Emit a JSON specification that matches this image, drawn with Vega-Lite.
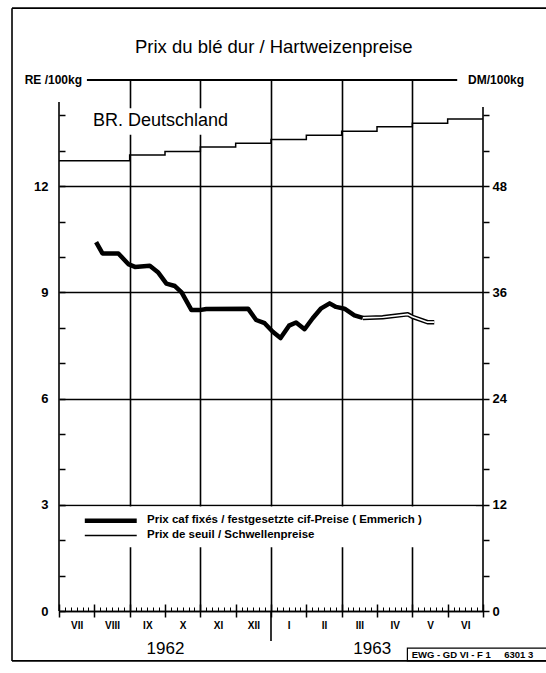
{
  "$schema": "https://vega.github.io/schema/vega-lite/v6.json",
  "width": 424,
  "height": 531,
  "autosize": {"type": "none"},
  "padding": {"left": 59, "top": 80, "right": 63, "bottom": 62},
  "background": "white",
  "config": {
    "view": {"stroke": null},
    "axis": {"domainColor": "black", "tickColor": "black", "labelColor": "black", "gridColor": "black", "gridOpacity": 1, "labelFont": "Liberation Sans", "title": null, "labelOverlap": false, "labelFlush": false},
    "text": {"font": "Liberation Sans", "color": "black"}
  },
  "data": {"values": [{}]},
  "datasets": {
    "caf": [
      {"m": 1.05, "v": 10.42}, {"m": 1.23, "v": 10.1}, {"m": 1.68, "v": 10.1}, {"m": 1.96, "v": 9.8},
      {"m": 2.15, "v": 9.72}, {"m": 2.57, "v": 9.75}, {"m": 2.8, "v": 9.57}, {"m": 3.04, "v": 9.25},
      {"m": 3.28, "v": 9.18}, {"m": 3.47, "v": 9.0}, {"m": 3.75, "v": 8.5}, {"m": 3.98, "v": 8.5},
      {"m": 4.17, "v": 8.53}, {"m": 5.35, "v": 8.54}, {"m": 5.58, "v": 8.22}, {"m": 5.82, "v": 8.13},
      {"m": 6.05, "v": 7.89}, {"m": 6.27, "v": 7.71}, {"m": 6.51, "v": 8.06}, {"m": 6.71, "v": 8.15},
      {"m": 6.95, "v": 7.96}, {"m": 7.18, "v": 8.27}, {"m": 7.42, "v": 8.55}, {"m": 7.66, "v": 8.69},
      {"m": 7.84, "v": 8.59}, {"m": 8.08, "v": 8.54}, {"m": 8.36, "v": 8.35}, {"m": 8.6, "v": 8.28}
    ],
    "cafOpen": [
      {"m": 8.6, "v": 8.28}, {"m": 9.16, "v": 8.3}, {"m": 9.87, "v": 8.38}, {"m": 10.0, "v": 8.31},
      {"m": 10.43, "v": 8.16}, {"m": 10.62, "v": 8.16}
    ],
    "seuil": [
      {"m": 0, "v": 12.72}, {"m": 2, "v": 12.88}, {"m": 3, "v": 12.98}, {"m": 4, "v": 13.11},
      {"m": 5, "v": 13.21}, {"m": 6, "v": 13.32}, {"m": 7, "v": 13.44}, {"m": 8, "v": 13.55},
      {"m": 9, "v": 13.68}, {"m": 10, "v": 13.78}, {"m": 11, "v": 13.9}, {"m": 12, "v": 13.9}
    ]
  },
  "resolve": {"axis": {"x": "independent", "y": "independent"}},
  "layer": [
    {
      "mark": {"type": "rect", "color": "white"},
      "encoding": {
        "x": {"datum": 0.2, "type": "quantitative", "scale": {"domain": [0, 12], "nice": false, "zero": false},
              "axis": {"orient": "bottom", "values": [2, 4, 6, 8, 10], "grid": true, "gridWidth": 1.6, "ticks": false, "labels": false, "domain": false}},
        "x2": {"datum": 11.8},
        "y": {"datum": 1.8, "type": "quantitative", "scale": {"domain": [0, 15], "nice": false, "zero": false},
              "axis": {"orient": "left", "values": [0, 3, 6, 9, 12], "grid": true, "gridWidth": 1.6, "ticks": false, "labelPadding": 11, "labelFontSize": 13, "labelFontWeight": "bold", "domain": false}},
        "y2": {"datum": 2.95}
      }
    },
    {
      "mark": {"type": "rect", "color": "white"},
      "encoding": {
        "x": {"datum": 0.9, "type": "quantitative", "scale": {"domain": [0, 12], "nice": false, "zero": false}, "axis": null},
        "x2": {"datum": 4.85},
        "y": {"datum": 13.45, "type": "quantitative", "scale": {"domain": [0, 15], "nice": false, "zero": false},
              "axis": {"orient": "left", "values": [0, 1, 2, 3, 4, 5, 6, 7, 8, 9, 10, 11, 12, 13, 14], "tickSize": -6, "tickWidth": 1.5, "labels": false, "domain": false, "grid": false}},
        "y2": {"datum": 14.2}
      }
    },
    {
      "data": {"name": "seuil"},
      "mark": {"type": "line", "interpolate": "step-after", "color": "black", "strokeWidth": 1.5},
      "encoding": {
        "x": {"field": "m", "type": "quantitative", "scale": {"domain": [0, 12], "nice": false, "zero": false},
              "axis": {"orient": "bottom", "values": [0, 0.1667, 0.3333, 0.5, 0.6667, 0.8333, 1, 1.1667, 1.3333, 1.5, 1.6667, 1.8333, 2, 2.1667, 2.3333, 2.5, 2.6667, 2.8333, 3, 3.1667, 3.3333, 3.5, 3.6667, 3.8333, 4, 4.1667, 4.3333, 4.5, 4.6667, 4.8333, 5, 5.1667, 5.3333, 5.5, 5.6667, 5.8333, 6, 6.1667, 6.3333, 6.5, 6.6667, 6.8333, 7, 7.1667, 7.3333, 7.5, 7.6667, 7.8333, 8, 8.1667, 8.3333, 8.5, 8.6667, 8.8333, 9, 9.1667, 9.3333, 9.5, 9.6667, 9.8333, 10, 10.1667, 10.3333, 10.5, 10.6667, 10.8333, 11, 11.1667, 11.3333, 11.5, 11.6667, 11.8333, 12], "tickSize": -4, "tickWidth": 1, "labels": false, "domain": true, "domainWidth": 1.6, "grid": false}},
        "y": {"field": "v", "type": "quantitative", "scale": {"domain": [0, 15], "nice": false, "zero": false},
              "axis": {"orient": "right", "values": [0, 1, 2, 3, 4, 5, 6, 7, 8, 9, 10, 11, 12, 13, 14], "tickSize": 6, "tickWidth": 1.5, "labelExpr": "datum.value % 3 == 0 && datum.value <= 12 ? format(datum.value * 4, 'd') : ''", "labelPadding": 3, "labelFontSize": 13, "labelFontWeight": "bold", "domain": false, "grid": false}}
      }
    },
    {
      "data": {"name": "caf"},
      "mark": {"type": "line", "color": "black", "strokeWidth": 4.5, "strokeJoin": "round", "strokeCap": "butt"},
      "encoding": {
        "x": {"field": "m", "type": "quantitative", "scale": {"domain": [0, 12], "nice": false, "zero": false},
              "axis": {"orient": "bottom", "values": [0, 1, 2, 3, 4, 5, 6, 7, 8, 9, 10, 11, 12], "offset": -7, "tickSize": 13, "tickWidth": 1.5, "labels": false, "domain": false, "grid": false}},
        "y": {"field": "v", "type": "quantitative", "scale": {"domain": [0, 15], "nice": false, "zero": false}, "axis": null}
      }
    },
    {
      "data": {"name": "cafOpen"},
      "mark": {"type": "line", "color": "black", "strokeWidth": 4.5, "strokeJoin": "round"},
      "encoding": {
        "x": {"field": "m", "type": "quantitative", "scale": {"domain": [0, 12], "nice": false, "zero": false},
              "axis": {"orient": "bottom", "values": [0.5, 1.5, 2.5, 3.5, 4.5, 5.5, 6.5, 7.5, 8.5, 9.5, 10.5, 11.5], "labelExpr": "['VII','VIII','IX','X','XI','XII','I','II','III','IV','V','VI'][floor(datum.value)]", "ticks": false, "tickSize": 0, "labelPadding": 9, "labelFontSize": 10, "labelFontWeight": "bold", "domain": false, "grid": false}},
        "y": {"field": "v", "type": "quantitative", "scale": {"domain": [0, 15], "nice": false, "zero": false}, "axis": null}
      }
    },
    {
      "data": {"name": "cafOpen"},
      "mark": {"type": "line", "color": "white", "strokeWidth": 1.6, "strokeJoin": "round"},
      "encoding": {
        "x": {"field": "m", "type": "quantitative", "scale": {"domain": [0, 12], "nice": false, "zero": false},
              "axis": {"orient": "bottom", "values": [3.0, 8.85], "labelExpr": "datum.value < 6 ? '1962' : '1963'", "ticks": false, "tickSize": 0, "labelPadding": 29, "labelFontSize": 17, "labelFontWeight": "normal", "domain": false, "grid": false}},
        "y": {"field": "v", "type": "quantitative", "scale": {"domain": [0, 15], "nice": false, "zero": false}, "axis": null}
      }
    },
    {
      "mark": {"type": "rule", "color": "black", "strokeWidth": 1.6},
      "encoding": {
        "x": {"datum": 0, "type": "quantitative", "scale": {"domain": [0, 12], "nice": false, "zero": false}, "axis": null},
        "y": {"datum": 0, "type": "quantitative", "scale": {"domain": [0, 15], "nice": false, "zero": false}, "axis": null},
        "y2": {"datum": 14.38}
      }
    },
    {
      "mark": {"type": "rule", "color": "black", "strokeWidth": 1.6},
      "encoding": {
        "x": {"datum": 12, "type": "quantitative", "scale": {"domain": [0, 12], "nice": false, "zero": false}, "axis": null},
        "y": {"datum": 0, "type": "quantitative", "scale": {"domain": [0, 15], "nice": false, "zero": false}, "axis": null},
        "y2": {"datum": 14.24}
      }
    },
    {
      "mark": {"type": "rule", "color": "black", "strokeWidth": 1.8},
      "encoding": {
        "x": {"datum": 0.79, "type": "quantitative", "scale": {"domain": [0, 12], "nice": false, "zero": false}, "axis": null},
        "x2": {"datum": 11.27},
        "y": {"datum": 15, "type": "quantitative", "scale": {"domain": [0, 15], "nice": false, "zero": false}, "axis": null}
      }
    },
    {
      "mark": {"type": "rule", "color": "black", "strokeWidth": 1.6},
      "encoding": {
        "x": {"datum": 6, "type": "quantitative", "scale": {"domain": [0, 12], "nice": false, "zero": false}, "axis": null},
        "y": {"datum": 0, "type": "quantitative", "scale": {"domain": [0, 15], "nice": false, "zero": false}, "axis": null},
        "y2": {"datum": -0.85}
      }
    },
    {
      "mark": {"type": "rule", "color": "black", "strokeWidth": 1.6},
      "encoding": {
        "x": {"datum": -1.33, "type": "quantitative", "scale": {"domain": [0, 12], "nice": false, "zero": false}, "axis": null},
        "y": {"datum": -1.41, "type": "quantitative", "scale": {"domain": [0, 15], "nice": false, "zero": false}, "axis": null},
        "y2": {"datum": 17.03}
      }
    },
    {
      "mark": {"type": "rule", "color": "black", "strokeWidth": 1.6},
      "encoding": {
        "x": {"datum": -1.33, "type": "quantitative", "scale": {"domain": [0, 12], "nice": false, "zero": false}, "axis": null},
        "x2": {"datum": 14},
        "y": {"datum": 17.03, "type": "quantitative", "scale": {"domain": [0, 15], "nice": false, "zero": false}, "axis": null}
      }
    },
    {
      "mark": {"type": "rule", "color": "black", "strokeWidth": 1.6},
      "encoding": {
        "x": {"datum": -1.33, "type": "quantitative", "scale": {"domain": [0, 12], "nice": false, "zero": false}, "axis": null},
        "x2": {"datum": 14},
        "y": {"datum": -1.41, "type": "quantitative", "scale": {"domain": [0, 15], "nice": false, "zero": false}, "axis": null}
      }
    },
    {
      "mark": {"type": "rect", "fill": null, "fillOpacity": 0, "stroke": "black", "strokeWidth": 1.2},
      "encoding": {
        "x": {"datum": 9.86, "type": "quantitative", "scale": {"domain": [0, 12], "nice": false, "zero": false}, "axis": null},
        "x2": {"datum": 14},
        "y": {"datum": -1.05, "type": "quantitative", "scale": {"domain": [0, 15], "nice": false, "zero": false}, "axis": null},
        "y2": {"datum": -1.41}
      }
    },
    {
      "mark": {"type": "rule", "color": "black", "strokeWidth": 4.5},
      "encoding": {
        "x": {"datum": 0.73, "type": "quantitative", "scale": {"domain": [0, 12], "nice": false, "zero": false}, "axis": null},
        "x2": {"datum": 2.2},
        "y": {"datum": 2.55, "type": "quantitative", "scale": {"domain": [0, 15], "nice": false, "zero": false}, "axis": null}
      }
    },
    {
      "mark": {"type": "rule", "color": "black", "strokeWidth": 1.5},
      "encoding": {
        "x": {"datum": 0.73, "type": "quantitative", "scale": {"domain": [0, 12], "nice": false, "zero": false}, "axis": null},
        "x2": {"datum": 2.2},
        "y": {"datum": 2.13, "type": "quantitative", "scale": {"domain": [0, 15], "nice": false, "zero": false}, "axis": null}
      }
    },
    {
      "mark": {"type": "text", "align": "left", "baseline": "middle", "fontSize": 11.5, "fontWeight": "bold"},
      "encoding": {
        "x": {"datum": 2.49, "type": "quantitative", "scale": {"domain": [0, 12], "nice": false, "zero": false}, "axis": null},
        "y": {"datum": 2.57, "type": "quantitative", "scale": {"domain": [0, 15], "nice": false, "zero": false}, "axis": null},
        "text": {"value": "Prix caf fixés / festgesetzte cif-Preise  ( Emmerich )"}
      }
    },
    {
      "mark": {"type": "text", "align": "left", "baseline": "middle", "fontSize": 11.5, "fontWeight": "bold"},
      "encoding": {
        "x": {"datum": 2.49, "type": "quantitative", "scale": {"domain": [0, 12], "nice": false, "zero": false}, "axis": null},
        "y": {"datum": 2.15, "type": "quantitative", "scale": {"domain": [0, 15], "nice": false, "zero": false}, "axis": null},
        "text": {"value": "Prix de seuil / Schwellenpreise"}
      }
    },
    {
      "mark": {"type": "text", "align": "center", "baseline": "middle", "fontSize": 18.5},
      "encoding": {
        "x": {"datum": 6.08, "type": "quantitative", "scale": {"domain": [0, 12], "nice": false, "zero": false}, "axis": null},
        "y": {"datum": 15.93, "type": "quantitative", "scale": {"domain": [0, 15], "nice": false, "zero": false}, "axis": null},
        "text": {"value": "Prix du blé dur / Hartweizenpreise"}
      }
    },
    {
      "mark": {"type": "text", "align": "left", "baseline": "middle", "fontSize": 18},
      "encoding": {
        "x": {"datum": 0.96, "type": "quantitative", "scale": {"domain": [0, 12], "nice": false, "zero": false}, "axis": null},
        "y": {"datum": 13.83, "type": "quantitative", "scale": {"domain": [0, 15], "nice": false, "zero": false}, "axis": null},
        "text": {"value": "BR. Deutschland"}
      }
    },
    {
      "mark": {"type": "text", "align": "center", "baseline": "middle", "fontSize": 12, "fontWeight": "bold"},
      "encoding": {
        "x": {"datum": -0.16, "type": "quantitative", "scale": {"domain": [0, 12], "nice": false, "zero": false}, "axis": null},
        "y": {"datum": 15, "type": "quantitative", "scale": {"domain": [0, 15], "nice": false, "zero": false}, "axis": null},
        "text": {"value": "RE /100kg"}
      }
    },
    {
      "mark": {"type": "text", "align": "center", "baseline": "middle", "fontSize": 12, "fontWeight": "bold"},
      "encoding": {
        "x": {"datum": 12.37, "type": "quantitative", "scale": {"domain": [0, 12], "nice": false, "zero": false}, "axis": null},
        "y": {"datum": 15, "type": "quantitative", "scale": {"domain": [0, 15], "nice": false, "zero": false}, "axis": null},
        "text": {"value": "DM/100kg"}
      }
    },
    {
      "mark": {"type": "text", "align": "left", "baseline": "middle", "fontSize": 9.5, "fontWeight": "bold"},
      "encoding": {
        "x": {"datum": 9.98, "type": "quantitative", "scale": {"domain": [0, 12], "nice": false, "zero": false}, "axis": null},
        "y": {"datum": -1.23, "type": "quantitative", "scale": {"domain": [0, 15], "nice": false, "zero": false}, "axis": null},
        "text": {"value": "EWG - GD VI - F 1"}
      }
    },
    {
      "mark": {"type": "text", "align": "left", "baseline": "middle", "fontSize": 9.5, "fontWeight": "bold"},
      "encoding": {
        "x": {"datum": 12.6, "type": "quantitative", "scale": {"domain": [0, 12], "nice": false, "zero": false}, "axis": null},
        "y": {"datum": -1.23, "type": "quantitative", "scale": {"domain": [0, 15], "nice": false, "zero": false}, "axis": null},
        "text": {"value": "6301 3"}
      }
    }
  ]
}
